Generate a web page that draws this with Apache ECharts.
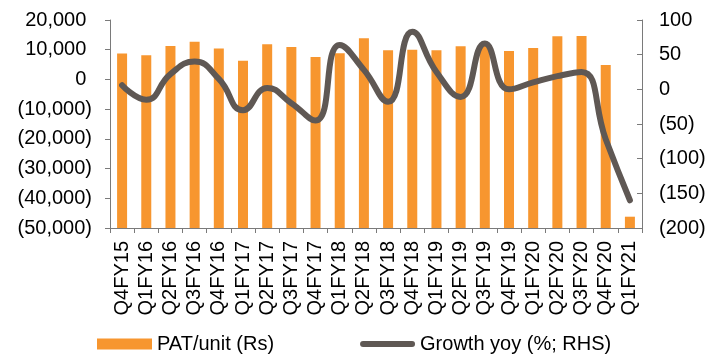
<!DOCTYPE html>
<html>
<head>
<meta charset="utf-8">
<script src="https://cdn.jsdelivr.net/npm/echarts@6/dist/echarts.min.js"></script>
<style>
  html, body { margin: 0; padding: 0; background: #fff; }
  #chart { width: 721px; height: 359px; }
</style>
</head>
<body>
<div id="chart"></div>
<script>
// Quarterly profit after tax per unit and its year-on-year growth
const quarters = ['Q4FY15','Q1FY16','Q2FY16','Q3FY16','Q4FY16','Q1FY17','Q2FY17','Q3FY17','Q4FY17',
  'Q1FY18','Q2FY18','Q3FY18','Q4FY18','Q1FY19','Q2FY19','Q3FY19','Q4FY19','Q1FY20','Q2FY20',
  'Q3FY20','Q4FY20','Q1FY21'];
const patPerUnit = [8700, 8100, 11250, 12700, 10400, 6300, 11800, 10900, 7550,
  8800, 13850, 9800, 10000, 9800, 11150, 11900, 9550, 10550, 14500,
  14600, 4850, -46200];
const growthYoy = [6, -15, 22, 40, 15, -30, 2, -20, -45,
  64, 28, -18, 83, 25, -11, 66, 0, 10, 19,
  25, -72, -160];

const leftTicks = { min: -50000, max: 20000, step: 10000 };
const rightTicks = { min: -200, max: 100, step: 50 };

const fontFamily = 'Liberation Sans, Arial, sans-serif';
const axisGrey = '#7a7a7a';
const barColor = '#F7962F';
const lineColor = '#5F5854';

function withParens(v, pad) {
  const s = Math.abs(v).toLocaleString('en-US');
  if (v < 0) return '(' + s + ')';
  return pad ? s + '\u2009\u200a' : s;
}

// Columns rise from the bottom of the left axis (where the category axis crosses)
function renderColumn(params, api) {
  const idx = api.value(0);
  const top = api.coord([idx, api.value(1)]);
  const base = api.coord([idx, leftTicks.min]);
  const w = 10;
  return {
    type: 'rect',
    shape: { x: top[0] - w / 2, y: Math.min(top[1], base[1]), width: w, height: Math.abs(base[1] - top[1]) },
    style: { fill: barColor }
  };
}

const chart = echarts.init(document.getElementById('chart'), null, { renderer: 'canvas' });
chart.setOption({
  animation: false,
  textStyle: { fontFamily: fontFamily },
  grid: { left: 110, right: 79, top: 20, bottom: 131, containLabel: false },
  legend: {
    left: 97,
    top: 334,
    padding: 0,
    itemWidth: 55,
    itemHeight: 11,
    itemGap: 86,
    textStyle: { fontSize: 20, color: '#000', fontFamily: fontFamily },
    data: [
      { name: 'PAT/unit (Rs)', icon: 'rect', itemStyle: { color: barColor } },
      { name: 'Growth yoy (%; RHS)', icon: 'path://M3,0 H52 A3,3 0 0 1 52,6 H3 A3,3 0 0 1 3,0 Z',
        itemStyle: { color: lineColor } }
    ]
  },
  xAxis: {
    type: 'category',
    data: quarters,
    boundaryGap: true,
    axisLine: { show: true, onZero: false, lineStyle: { color: axisGrey, width: 1 } },
    axisTick: { show: true, inside: false, length: 5, alignWithLabel: false, lineStyle: { color: axisGrey } },
    axisLabel: { rotate: 90, margin: 13, fontSize: 20, color: '#000', fontFamily: fontFamily, interval: 0 }
  },
  yAxis: [
    {
      type: 'value',
      min: leftTicks.min, max: leftTicks.max, interval: leftTicks.step,
      axisLine: { show: true, lineStyle: { color: axisGrey, width: 1 } },
      axisTick: { show: true, inside: false, length: 5, lineStyle: { color: axisGrey } },
      splitLine: { show: false },
      axisLabel: { fontSize: 20, color: '#000', margin: 18, fontFamily: fontFamily,
        formatter: v => withParens(v, true) }
    },
    {
      type: 'value',
      position: 'right',
      min: rightTicks.min, max: rightTicks.max, interval: rightTicks.step,
      axisLine: { show: true, lineStyle: { color: axisGrey, width: 1 } },
      axisTick: { show: true, inside: true, length: 5, lineStyle: { color: axisGrey } },
      splitLine: { show: false },
      axisLabel: { fontSize: 20, color: '#000', margin: 17, fontFamily: fontFamily,
        formatter: v => withParens(v, false) }
    }
  ],
  series: [
    {
      name: 'PAT/unit (Rs)',
      type: 'custom',
      yAxisIndex: 0,
      renderItem: renderColumn,
      encode: { x: 0, y: 1 },
      data: patPerUnit.map((v, i) => [i, v]),
      itemStyle: { color: barColor },
      clip: false
    },
    {
      name: 'Growth yoy (%; RHS)',
      type: 'line',
      yAxisIndex: 1,
      data: growthYoy,
      smooth: 0.5,
      showSymbol: false,
      symbol: 'none',
      z: 5,
      lineStyle: { color: lineColor, width: 6, cap: 'round', join: 'round' },
      itemStyle: { color: lineColor }
    }
  ]
});
</script>
</body>
</html>
